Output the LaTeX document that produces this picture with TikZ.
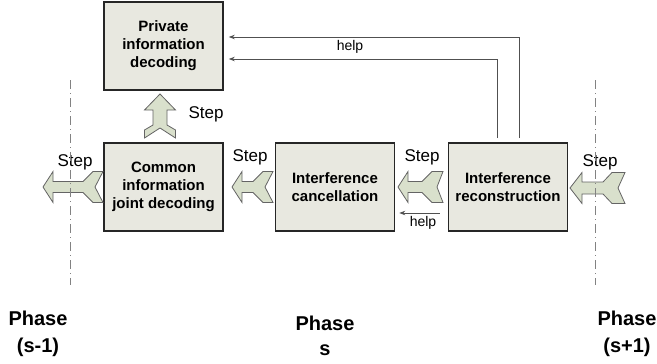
\documentclass[tikz,border=0pt]{standalone}
\usepackage{fontspec}
\setmainfont{Liberation Sans}
\usetikzlibrary{arrows.meta,calc}
\definecolor{boxfill}{RGB}{232,232,224}
\definecolor{arrowfill}{RGB}{217,224,204}
\definecolor{arrowline}{RGB}{100,100,100}
\definecolor{helpcol}{RGB}{80,80,80}
\definecolor{phasecol}{RGB}{130,130,130}
\newcommand\stepA[9]{%
  \begin{scope}[shift={(#1,#2)},rotate=#3]
    \draw[stepshape] (0,0) -- (#5,-15.5) -- (#5,-#6) -- (#4-#7,-#6) -- (#4-#8,-15.5) -- (#4,-15.5) -- (#4-#9,0)
      -- (#4,15.5) -- (#4-#8,15.5) -- (#4-#7,#6) -- (#5,#6) -- (#5,15.5) -- cycle;
  \end{scope}}
\begin{document}
\begin{tikzpicture}[x=1pt,y=-1pt,
  block/.style={draw=black!85,line width=1.6pt,fill=boxfill,minimum width=119pt,minimum height=88pt,
    inner sep=0pt,align=center,font=\fontsize{15}{18}\selectfont\bfseries},
  steplabel/.style={font=\fontsize{17}{20}\selectfont,inner sep=0pt},
  helplabel/.style={font=\fontsize{14}{16}\selectfont,inner sep=0pt},
  helpline/.style={draw=helpcol,line width=0.8pt,-{Stealth[length=6pt,width=4.5pt]}},
  phaselabel/.style={font=\fontsize{20}{27}\selectfont\bfseries,align=center,inner sep=0pt},
  stepshape/.style={fill=arrowfill,draw=arrowline,line width=0.8pt,line join=miter},
  phasesep/.style={draw=phasecol,line width=0.9pt,dash pattern=on 9pt off 4pt on 1pt off 4pt}]
\useasboundingbox (0,0) rectangle (657,364);

% blocks
\node[block] (P) at (163.5,46) {Private\\information\\decoding};
\node[block] (C) at (163.5,187) {Common\\information\\joint decoding};
\node[block] (IC) at (335,187) {Interference\\cancellation};
\node[block] (IR) at (508,187) {Interference\\reconstruction};

% step arrows
\stepA{43}{187}{0}{60}{10}{5.5}{20}{10}{8}
\stepA{232}{187}{0}{41}{10}{5.5}{20}{10}{8}
\stepA{398}{187}{0}{45}{10}{5.5}{21}{11}{6}
\stepA{570}{188}{0}{55}{12}{6}{22}{13}{7}
\stepA{160}{94}{-90}{44}{16}{7}{13}{8}{10}

% step labels
\node[steplabel] (s1) at (75,162) {Step};
\node[steplabel] (s2) at (250,157) {Step};
\node[steplabel] (s3) at (422,157) {Step};
\node[steplabel] (s4) at (600,162) {Step};
\node[steplabel] (s5) at (206,114) {Step};

% help connections
\draw[helpline] ([xshift=11pt,yshift=4pt]IR.north) |- ([xshift=5pt,yshift=9pt]P.east);
\draw[helpline] ([xshift=-11pt,yshift=4pt]IR.north) |- ([xshift=5pt,yshift=-13pt]P.east);
\node[helplabel] (hl1) at (350,47) {help};
\coordinate (h1) at ($(IR.west)+(-8,26)$);
\coordinate (h2) at ($(IC.east)+(4,26)$);
\draw[helpline] (h1) -- (h2);
\node[helplabel] (hl2) at (423,223) {help};

% phase separators
\coordinate (d1t) at (70.7,80);
\coordinate (d1b) at (70.7,285);
\coordinate (d2t) at (595,80);
\coordinate (d2b) at (595,285);
\draw[phasesep] (d1t) -- (d1b);
\draw[phasesep] (d2t) -- (d2b);

% phase labels
\node[phaselabel] (ph1) at (38,334) {Phase\\(s-1)};
\node[phaselabel] (ph2) at (325,336) {Phase\\[-2pt]s};
\node[phaselabel] (ph3) at (627,334) {Phase\\(s+1)};
\end{tikzpicture}
\end{document}
